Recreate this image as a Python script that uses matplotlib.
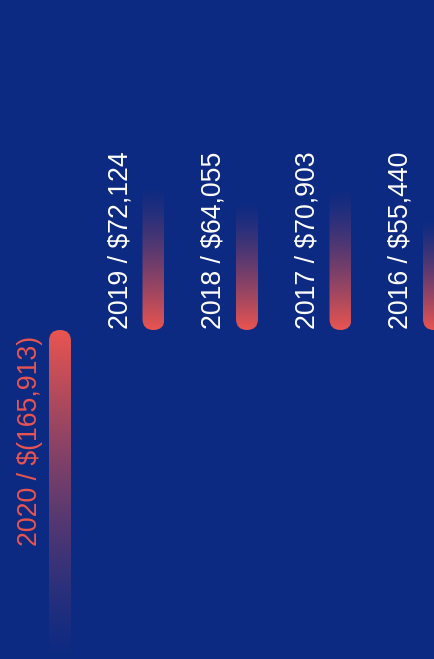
import numpy as np
import matplotlib
matplotlib.use("Agg")
import matplotlib.pyplot as plt
from matplotlib.patches import FancyBboxPatch
from matplotlib.colors import to_rgb

years = ["2020", "2019", "2018", "2017", "2016"]
values = [-165913, 72124, 64055, 70903, 55440]
labels = ["2020 / $(165,913)", "2019 / $72,124", "2018 / $64,055",
          "2017 / $70,903", "2016 / $55,440"]

BG = "#0c2a82"
RED = "#ea5550"
W, H, DPI = 435, 659, 100

fig = plt.figure(figsize=(W / DPI, H / DPI), dpi=DPI, facecolor=BG)
ax = fig.add_axes([0, 0, 1, 1], facecolor=BG)
ax.set_axis_off()

# scales: bar spacing 93.5 px, first bar centre at 60 px; baseline at 330 px
px_per_x = 93.5
px_per_y = 145 / 72124
x_left = -60 / px_per_x
x_right = x_left + W / px_per_x
y_top = 330 / px_per_y
y_bot = -(H - 330) / px_per_y
ax.set_xlim(x_left, x_right)
ax.set_ylim(y_bot, y_top)

bar_w = 22 / px_per_x
aspect = (1 / px_per_y) / (1 / px_per_x)

rgb = np.array(to_rgb(RED))
for i, (v, lab) in enumerate(zip(values, labels)):
    x0 = i - bar_w / 2
    y0, y1 = (0, v) if v >= 0 else (v, 0)
    n = 256
    t = np.linspace(0, 1, n)
    alpha = (1 - t) ** 1.3
    img = np.zeros((n, 2, 4))
    img[:, :, :3] = rgb
    img[:, :, 3] = alpha[:, None]
    if v >= 0:
        extent = (x0, x0 + bar_w, 0, v)
        origin = "lower"
    else:
        extent = (x0, x0 + bar_w, v, 0)
        origin = "upper"
    im = ax.imshow(img, extent=extent, origin=origin, aspect="auto",
                   interpolation="bilinear", zorder=2)
    patch = FancyBboxPatch((x0, y0), bar_w, y1 - y0,
                           boxstyle=f"round,pad=0,rounding_size={bar_w/2}",
                           mutation_aspect=aspect,
                           transform=ax.transData, facecolor="none",
                           edgecolor="none")
    ax.add_patch(patch)
    im.set_clip_path(patch)

    tx = i - 33 / px_per_x
    if v >= 0:
        ax.text(tx, 1 / px_per_y, lab, rotation=90, ha="center", va="bottom",
                color="white", fontsize=19.2, family="Liberation Sans",
                zorder=3)
    else:
        ax.text(tx + 3 / px_per_x, -6 / px_per_y, lab, rotation=90,
                ha="center", va="top", color=RED, fontsize=19.2,
                family="Liberation Sans", zorder=3)

fig.savefig("out.png", dpi=DPI, facecolor=BG)
